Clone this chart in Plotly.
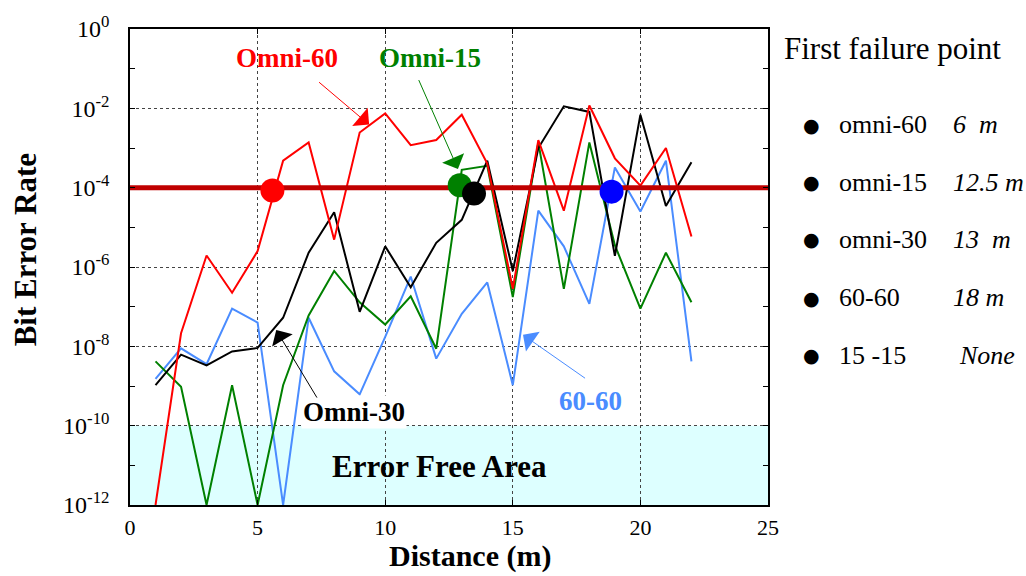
import plotly.graph_objects as go

# ---------------- data (log10 of bit error rate) ----------------
distance = list(range(1, 23))
omni60_log = [-12.0, -7.67, -5.71, -6.65, -5.6, -3.32, -2.86, -5.31, -2.61, -2.13, -2.93,
              -2.80, -2.16, -3.39, -6.55, -2.8, -4.58, -1.93, -3.26, -3.95, -3.0, -5.23]
omni30_log = [-8.98, -8.21, -8.48, -8.13, -8.04, -7.28, -5.64, -4.62, -7.13, -5.48, -6.51,
              -5.39, -4.81, -3.32, -6.1, -3.0, -1.95, -2.09, -5.72, -2.16, -4.46, -3.36]
omni15_log = [-8.38, -9.02, -12.0, -8.98, -12.0, -8.98, -7.22, -6.10, -6.89, -7.45, -6.74,
              -8.06, -3.55, -3.45, -6.76, -2.86, -6.55, -2.86, -5.45, -7.05, -5.64, -6.89]
s6060_log = [-8.82, -8.05, -8.45, -7.05, -7.4, -12.0, -7.28, -8.63, -9.21, -7.76, -6.24,
             -8.31, -7.18, -6.39, -8.98, -4.58, -5.48, -6.93, -3.49, -4.6, -3.32, -8.38]

threshold_ber = 1e-4
error_free_top_exp = -10

# first-failure markers: x, log10(y), colour
fail_x = [5.58, 12.92, 13.48, 18.87]
fail_log = [-4.07, -3.94, -4.15, -4.1]
fail_colors = ["#ff0000", "#008000", "#000000", "#0000ff"]

legend_names = ["omni-60", "omni-15", "omni-30", "60-60", "15 -15"]
legend_values = ["6\u00a0\u00a0m", "12.5\u00a0m", "13\u00a0\u00a0m", "18\u00a0m", "None"]

x_range = [0, 25]
y_exp_range = [-12, 0]
x_ticks = [0, 5, 10, 15, 20, 25]
y_major_exp = [0, -2, -4, -6, -8, -10, -12]
y_minor_exp = [-1, -3, -5, -7, -9, -11]

SERIF = "Liberation Serif"

fig = go.Figure()

def add_series(logs, color, name):
    fig.add_trace(go.Scatter(x=distance, y=[10 ** v for v in logs], mode="lines",
                             line=dict(color=color, width=2), name=name,
                             showlegend=False, cliponaxis=True))

add_series(s6060_log, "#4a8cff", "60-60")
add_series(omni15_log, "#008000", "Omni-15")
add_series(omni30_log, "#000000", "Omni-30")
add_series(omni60_log, "#ff0000", "Omni-60")

# threshold line
fig.add_trace(go.Scatter(x=x_range, y=[threshold_ber, threshold_ber], mode="lines",
                         line=dict(color="#c00000", width=5), showlegend=False))

# failure points
for i in range(len(fail_x)):
    fig.add_trace(go.Scatter(x=[fail_x[i]], y=[10 ** fail_log[i]], mode="markers",
                             marker=dict(color=fail_colors[i], size=24, line=dict(width=0)),
                             showlegend=False, cliponaxis=False))

# error free area (below gridlines)
free_top_frac = (error_free_top_exp - y_exp_range[0]) / (y_exp_range[1] - y_exp_range[0])
fig.add_shape(type="rect", xref="x domain", yref="y domain", x0=0, x1=1, y0=0,
              y1=free_top_frac, fillcolor="#ddffff", line=dict(width=0), layer="below")

ann = []
# series labels
ann.append(dict(x=6.16, y=-0.73, xref="x", yref="y", text="<b>Omni-60</b>", showarrow=False,
                font=dict(family=SERIF, size=27, color="#ff0000")))
ann.append(dict(x=11.77, y=-0.73, xref="x", yref="y", text="<b>Omni-15</b>", showarrow=False,
                font=dict(family=SERIF, size=27, color="#008000")))
ann.append(dict(x=8.76, y=-9.65, xref="x", yref="y", text="<b>Omni-30</b>", showarrow=False,
                bgcolor="white", borderpad=1,
                font=dict(family=SERIF, size=27, color="#000000")))
ann.append(dict(x=18.06, y=-9.39, xref="x", yref="y", text="<b>60-60</b>", showarrow=False,
                font=dict(family=SERIF, size=27, color="#4a8cff")))
ann.append(dict(x=12.14, y=-11.04, xref="x", yref="y", text="<b>Error Free Area</b>",
                showarrow=False, font=dict(family=SERIF, size=31, color="#000000")))

# arrows
arrows = [
    (9.37, -2.41, 7.35, -1.31, "#ff0000"),
    (12.85, -3.53, 11.29, -1.25, "#008000"),
    (5.73, -7.59, 7.36, -9.33, "#000000"),
    (15.4, -7.71, 17.89, -8.83, "#4a8cff"),
]
for (tx, ty, sx, sy, c) in arrows:
    ann.append(dict(x=tx, y=ty, ax=sx, ay=sy, xref="x", yref="y", axref="x", ayref="y",
                    text="", showarrow=True, arrowhead=1, arrowsize=4, arrowwidth=1,
                    arrowcolor=c))

# axis titles
ann.append(dict(x=0.533, y=-0.108, xref="paper", yref="paper", text="<b>Distance (m)</b>",
                showarrow=False, xanchor="center", yanchor="middle",
                font=dict(family=SERIF, size=30, color="black")))
ann.append(dict(x=-0.1646, y=0.537, xref="paper", yref="paper", text="<b>Bit Error Rate</b>",
                showarrow=False, textangle=-90, xanchor="center", yanchor="middle",
                font=dict(family=SERIF, size=31, color="black")))

# side legend
ann.append(dict(x=1.0215, y=0.9585, xref="paper", yref="paper", text="First failure point",
                showarrow=False, xanchor="left", yanchor="middle",
                font=dict(family=SERIF, size=31, color="black")))
leg_y = [0.7988, 0.6778, 0.5587, 0.4357, 0.3147]
for i, (nm, val) in enumerate(zip(legend_names, legend_values)):
    ann.append(dict(x=1.0685, y=leg_y[i], xref="paper", yref="paper", text="\u25CF",
                    showarrow=False, xanchor="center", yanchor="middle",
                    font=dict(family="DejaVu Sans", size=19, color="black")))
    ann.append(dict(x=1.1077, y=leg_y[i], xref="paper", yref="paper", text=nm,
                    showarrow=False, xanchor="left", yanchor="middle",
                    font=dict(family=SERIF, size=26, color="black")))
    ann.append(dict(x=1.2876 if val != "None" else 1.2958, y=leg_y[i], xref="paper",
                    yref="paper", text="<i>" + val + "</i>",
                    showarrow=False, xanchor="left", yanchor="middle",
                    font=dict(family=SERIF, size=26, color="black")))

fig.update_layout(
    width=1026, height=576,
    margin=dict(l=130, r=258, t=23, b=71),
    paper_bgcolor="white", plot_bgcolor="white",
    annotations=ann,
    showlegend=False,
)

fig.update_xaxes(range=x_range, tickvals=x_ticks, ticktext=[str(v) for v in x_ticks],
                 ticks="inside", ticklen=5, tickcolor="black",
                 showline=True, linecolor="black", linewidth=1.5, mirror="ticks",
                 showgrid=True, gridcolor="#444", griddash="dot", gridwidth=1,
                 zeroline=False, ticklabelstandoff=2,
                 tickfont=dict(family=SERIF, size=22, color="black"))

fig.update_yaxes(type="log", range=y_exp_range,
                 tickvals=[10 ** e for e in y_major_exp],
                 ticktext=["10<sup>%d</sup>" % e for e in y_major_exp],
                 ticks="inside", ticklen=5, tickcolor="black",
                 minor=dict(tickvals=[10 ** e for e in y_minor_exp], ticks="inside",
                            ticklen=5, tickcolor="black", showgrid=False),
                 showline=True, linecolor="black", linewidth=1.5, mirror="ticks",
                 showgrid=True, gridcolor="#444", griddash="dot", gridwidth=1,
                 zeroline=False, ticklabelstandoff=14,
                 tickfont=dict(family=SERIF, size=24, color="black"))

fig.write_html("out.html")
